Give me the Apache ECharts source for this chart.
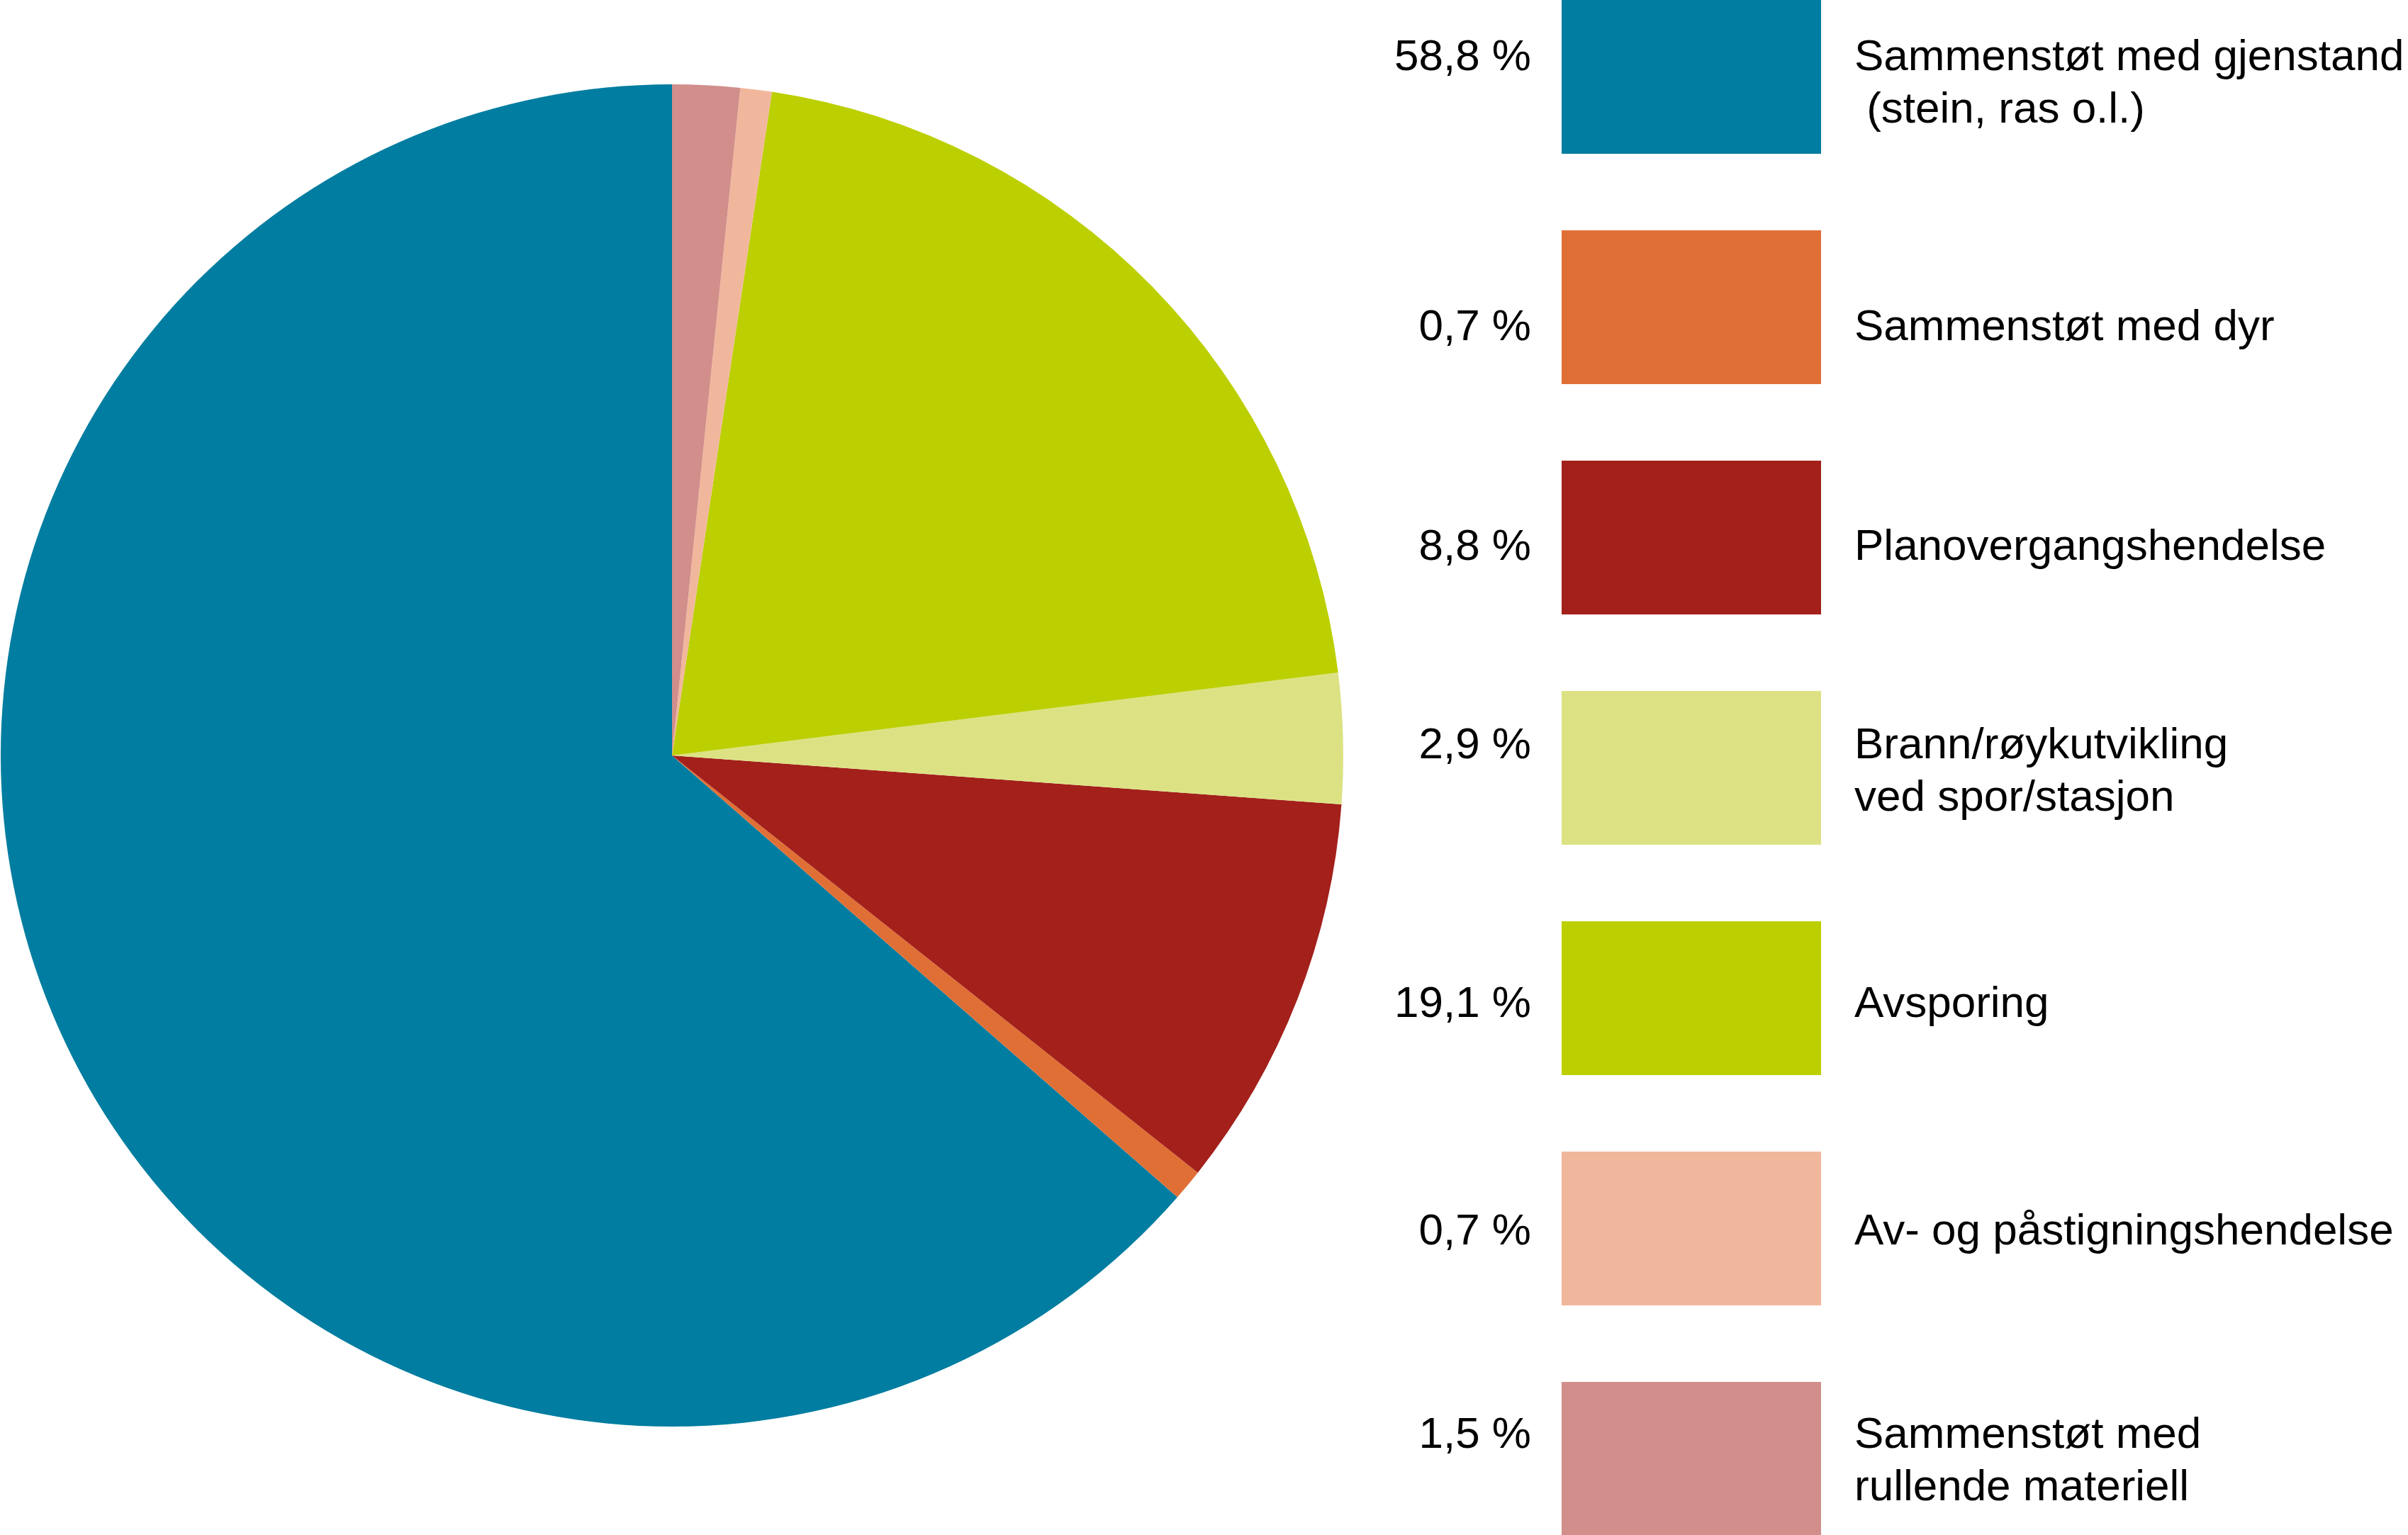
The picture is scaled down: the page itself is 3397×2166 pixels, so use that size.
<!DOCTYPE html>
<html>
<head>
<meta charset="utf-8">
<title>Hendelser</title>
<script src="https://cdn.jsdelivr.net/npm/echarts@6/dist/echarts.min.js"></script>
<style>
    html, body { margin: 0; padding: 0; background: #ffffff; }
    #chart { width: 3397px; height: 2166px; }
</style>
</head>
<body>
<div id="chart"></div>
<script>
// kategorier (samme rekkefølge som forklaringen)
var categories = [
    'Sammenstøt med gjenstand\n (stein, ras o.l.)',
    'Sammenstøt med dyr',
    'Planovergangshendelse',
    'Brann/røykutvikling\nved spor/stasjon',
    'Avsporing',
    'Av- og påstigningshendelse',
    'Sammenstøt med\nrullende materiell'
];
// andel i prosent
var shares = [58.8, 0.7, 8.8, 2.9, 19.1, 0.7, 1.5];

var colors = ['#007DA0', '#E06F36', '#A3201B', '#DCE284', '#BCCF00', '#F1B79C', '#D18E8B'];

window.onload = function () {
    var myChart = echarts.init(document.getElementById('chart'));

    // forklaring: boks, prosent til venstre, tekst til høyre
    var boxX = 2203, boxW = 366, boxH = 217, pitch = 325;
    var baseDy = [103, 159, 144, 99, 139, 135, 97];   // grunnlinje for første linje
    var font = '62px "Liberation Sans", Arial, sans-serif';
    var graphics = [];
    categories.forEach(function (name, i) {
        var top = i * pitch;
        graphics.push({
            type: 'rect',
            shape: { x: boxX, y: top, width: boxW, height: boxH },
            style: { fill: colors[i] },
            silent: true
        });
        graphics.push({
            type: 'text',
            x: 2160,
            y: top + baseDy[i] - 58,
            style: {
                text: shares[i].toFixed(1).replace('.', ',') + ' %',
                font: font,
                fill: '#000',
                align: 'right',
                verticalAlign: 'top',
                lineHeight: 74
            },
            silent: true
        });
        graphics.push({
            type: 'text',
            x: 2616,
            y: top + baseDy[i] - 58,
            style: {
                text: name,
                font: font,
                fill: '#000',
                align: 'left',
                verticalAlign: 'top',
                lineHeight: 74
            },
            silent: true
        });
    });

    var option = {
        animation: false,
        color: colors,
        graphic: graphics,
        series: [
            {
                type: 'pie',
                center: [948, 1066],
                radius: 947,
                startAngle: 90,
                clockwise: false,
                label: { show: false },
                labelLine: { show: false },
                emphasis: { disabled: true },
                itemStyle: { borderWidth: 0 },
                data: categories.map(function (c, i) {
                    return { name: c, value: shares[i] };
                })
            }
        ]
    };

    myChart.setOption(option);
    window.addEventListener('resize', function () {
        myChart.resize();
    });
};
</script>
</body>
</html>
